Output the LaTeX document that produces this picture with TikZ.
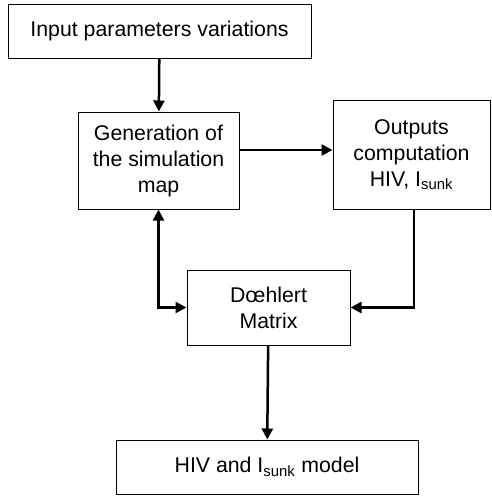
\documentclass[tikz,border=0pt]{standalone}
\usepackage{fontspec}
\setmainfont{Liberation Sans}
\usetikzlibrary{arrows.meta}

\begin{document}
\begin{tikzpicture}[x=1pt, y=-1pt,
  box/.style={draw, black, line width=1pt, align=center, inner sep=0pt,
    font=\fontsize{21.3}{26}\selectfont},
  arr/.style={line width=2.5pt, -{Triangle[length=11pt,width=11pt]}},
  arrs/.style={line width=2.5pt, {Triangle[length=11pt,width=11pt]}-{Triangle[length=11pt,width=11pt]}}]
\useasboundingbox (0,0) rectangle (491,496);
\node[box, minimum width=303, minimum height=54] (input) at (159.5,31) {Input parameters variations};
\node[box, minimum width=161, minimum height=97] (gen) at (158.5,160.5) {Generation of\\the simulation\\map};
\node[box, minimum width=157, minimum height=109] (outputs) at (411.5,154.5) {Outputs\\computation\\HIV, I\textsubscript{sunk}};
\node[box, minimum width=163, minimum height=75] (doehlert) at (268.5,307.5) {Dœhlert\\Matrix};
\node[box, minimum width=302, minimum height=54] (model) at (267,467) {HIV and I\textsubscript{sunk} model};

\draw[arr] (input) -- (gen);
\draw[arr] ([yshift=10.5pt]gen.east) -- ([yshift=10.5pt]gen.east -| outputs.west);
\draw[arrs] (gen.south) |- (doehlert.west);
\draw[arr] ([xshift=2.5pt]outputs.south) |- (doehlert.east);
\draw[arr] (doehlert) -- (model);

\end{tikzpicture}
\end{document}
